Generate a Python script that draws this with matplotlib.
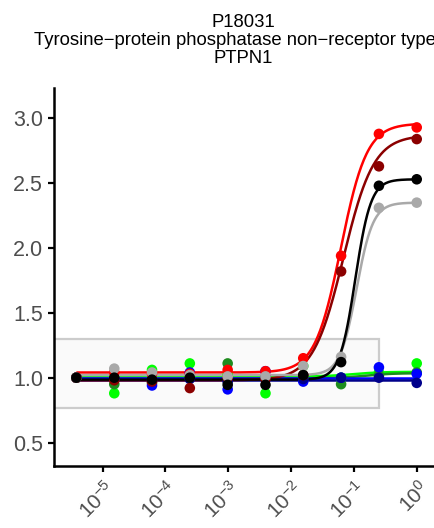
import numpy as np
import matplotlib
matplotlib.use("Agg")
import matplotlib.pyplot as plt
import matplotlib.transforms as mtransforms
from matplotlib.patches import Rectangle

plt.rcParams['font.family'] = ['Liberation Sans', 'DejaVu Sans']
plt.rcParams['mathtext.fontset'] = 'custom'
plt.rcParams['mathtext.rm'] = 'Liberation Sans'
plt.rcParams['mathtext.it'] = 'Liberation Sans:italic'

# ====== DATA ======
conc = [3.81e-6, 1.53e-5, 6.10e-5, 2.44e-4, 9.77e-4, 3.91e-3, 1.56e-2, 6.25e-2, 0.25, 1.0]

series_names = ["lime", "forestgreen", "blue", "darkblue", "red", "darkred", "darkgray", "black"]
series_colors = ["#00FF00", "#1E8C1E", "#0000FF", "#00008B", "#FF0000", "#8B0000", "#A9A9A9", "#000000"]

lime_vals = [1.0, 0.88, 1.06, 1.11, 1.02, 0.88, 1.09, 1.00, 1.04, 1.11]
green_vals = [1.0, 0.95, 0.96, 1.00, 1.11, 1.00, 1.00, 0.95, 1.02, 1.04]
blue_vals = [1.0, 0.99, 0.94, 1.04, 0.91, 1.05, 0.97, 1.00, 1.08, 1.03]
darkblue_vals = [1.0, 0.99, 0.98, 0.99, 0.97, 1.00, 0.99, 1.00, 1.00, 0.96]
red_vals = [1.0, 1.04, 1.03, 1.03, 1.06, 1.05, 1.15, 1.94, 2.88, 2.93]
darkred_vals = [1.0, 0.98, 0.97, 0.92, 1.00, 0.99, 1.02, 1.82, 2.63, 2.84]
gray_vals = [1.0, 1.07, 1.04, 1.02, 1.01, 1.01, 1.09, 1.16, 2.31, 2.35]
black_vals = [1.0, 1.00, 0.985, 1.00, 0.945, 0.945, 1.02, 1.12, 2.48, 2.53]

series_vals = [lime_vals, green_vals, blue_vals, darkblue_vals,
               red_vals, darkred_vals, gray_vals, black_vals]

# fitted sigmoid parameters: bottom, top, ec50, hill
fit_bottom = [1.01, 0.995, 0.995, 0.985, 1.04, 0.98, 1.02, 0.985]
fit_top = [1.045, 1.035, 0.995, 0.985, 2.96, 2.87, 2.35, 2.53]
fit_ec50 = [0.10, 0.15, 0.10, 0.10, 0.062, 0.068, 0.11, 0.105]
fit_hill = [2.0, 2.0, 1.0, 1.0, 2.1, 1.8, 3.3, 3.5]

# box around the baseline region
box_y = [0.77, 1.30]
box_xmax = 0.25

title_lines = ["P18031", "Tyrosine\u2212protein phosphatase non\u2212receptor type 1", "PTPN1"]
xtick_vals = [1e-5, 1e-4, 1e-3, 1e-2, 1e-1, 1e0]
xtick_labels = [r"$10^{-5}$", r"$10^{-4}$", r"$10^{-3}$", r"$10^{-2}$", r"$10^{-1}$", r"$10^{0}$"]
ytick_vals = [0.5, 1.0, 1.5, 2.0, 2.5, 3.0]

# ====== FIGURE ======
W, H = 434, 528
fig = plt.figure(figsize=(W / 100, H / 100), dpi=100)
ax = fig.add_axes([54 / W, (H - 466) / H, (W - 54) / W, (466 - 88) / H])

ax.set_xscale('log')
xlo, xhi = 10 ** -5.775, 10 ** 0.275
ax.set_xlim(xlo, xhi)
ax.set_ylim(0.319, 3.234)

ax.add_patch(Rectangle((xlo, box_y[0]), box_xmax - xlo, box_y[1] - box_y[0],
                       facecolor='#FAFAFA', edgecolor='#CCCCCC', linewidth=1.6, zorder=1))

xs = np.logspace(np.log10(min(conc)), np.log10(max(conc)), 400)
for i in range(len(series_names)):
    b, t, e, h = fit_bottom[i], fit_top[i], fit_ec50[i], fit_hill[i]
    ys = b + (t - b) / (1 + (e / xs) ** h)
    ax.plot(xs, ys, color=series_colors[i], linewidth=1.8, zorder=2 + i * 0.01,
            solid_capstyle='butt')

for i in range(len(series_names)):
    ax.scatter(conc, series_vals[i], s=58, color=series_colors[i], edgecolors='none',
               zorder=3 + i * 0.01)

ax.spines['top'].set_visible(False)
ax.spines['right'].set_visible(False)
ax.spines['left'].set_linewidth(1.8)
ax.spines['bottom'].set_linewidth(1.8)

ax.set_yticks(ytick_vals)
ax.set_yticklabels([f"{v:.1f}" for v in ytick_vals])
ax.set_xticks(xtick_vals)
ax.set_xticklabels(xtick_labels)
ax.minorticks_off()
ax.tick_params(axis='both', length=4, width=1.6, color='black', labelcolor='#4D4D4D',
               labelsize=15.5)
ax.tick_params(axis='x', labelsize=15)
ax.tick_params(axis='y', pad=4)
shift = mtransforms.ScaledTranslation(1 / 100, -1 / 100, fig.dpi_scale_trans)
for lab in ax.get_xticklabels():
    lab.set_rotation(45)
    lab.set_ha('right')
    lab.set_va('top')
    lab.set_rotation_mode('anchor')
    lab.set_transform(lab.get_transform() + shift)

fig.text(243 / W, 1 - 14 / H, "\n".join(title_lines), ha='center', va='top',
         fontsize=13.3, linespacing=1.08)

fig.savefig("out.png", dpi=100)
